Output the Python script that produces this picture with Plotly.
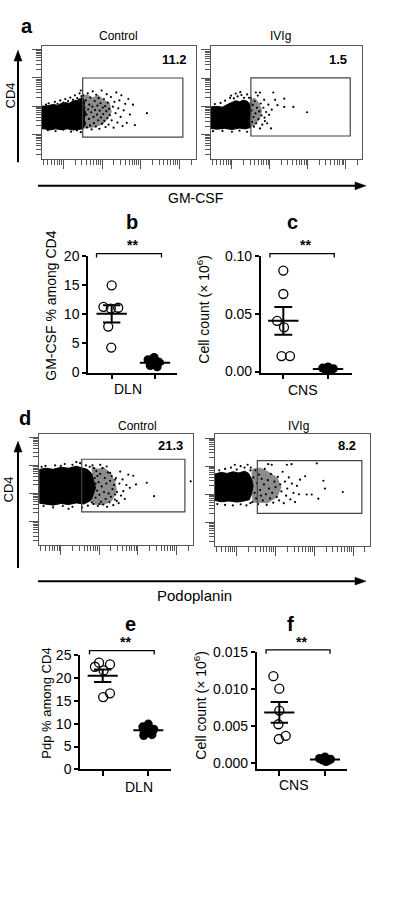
import math
import numpy as np
import plotly.graph_objects as go

W, H = 399, 918
FONT = "Liberation Sans, Arial, sans-serif"

# ---------------- flow cytometry panels (a, d): values in log10 decades ----------------
FLOW_GROUPS = ["Control", "IVIg"]
PCT_A = ["11.2", "1.5"]
PCT_D = ["21.3", "8.2"]
X_LABEL_A = "GM-CSF"
X_LABEL_D = "Podoplanin"
Y_LABEL_FLOW = "CD4"

FLOW_X_RANGE = [0.44, 4.43]
FLOW_Y_RANGE = [0.15, 4.13]

GATE_A_CTRL = [1.50, 4.09, 0.91, 2.99]
GATE_A_IVIG = [1.50, 4.12, 0.95, 3.01]
GATE_D_CTRL = [1.54, 4.22, 1.34, 3.22]
GATE_D_IVIG = [1.53, 4.22, 1.32, 3.20]

A_CTRL_CORE = [(0.44, 1.20), (0.44, 2.0), (0.55, 2.0), (0.65, 2.04), (0.75, 2.06), (0.85, 2.02),
               (0.95, 2.1), (1.05, 2.12), (1.15, 2.1), (1.25, 2.18), (1.35, 2.2), (1.45, 2.28),
               (1.50, 2.3), (1.55, 2.15), (1.53, 1.95), (1.58, 1.75), (1.54, 1.55), (1.57, 1.35),
               (1.50, 1.2), (1.40, 1.18), (1.25, 1.16), (1.1, 1.2), (0.95, 1.17), (0.8, 1.2),
               (0.65, 1.16), (0.5, 1.2)]
A_CTRL_HALO = [(1.5, 2.35), (1.62, 2.42), (1.75, 2.3), (1.9, 2.4), (2.05, 2.22), (2.2, 2.12),
               (2.25, 1.8), (2.15, 1.55), (2.02, 1.35), (1.8, 1.25), (1.5, 1.2)]
A_CTRL_DOTS = [(1.52, 2.38), (1.55, 1.95), (1.56, 1.40), (1.58, 2.20), (1.60, 1.70), (1.61, 1.25),
               (1.63, 2.45), (1.64, 1.88), (1.66, 1.55), (1.67, 2.05), (1.69, 1.32), (1.70, 2.30),
               (1.72, 1.78), (1.73, 1.18), (1.75, 1.98), (1.76, 2.52), (1.78, 1.62), (1.79, 1.40),
               (1.81, 2.18), (1.82, 1.86), (1.84, 1.28), (1.85, 2.40), (1.87, 1.70), (1.88, 2.02),
               (1.90, 1.50), (1.91, 2.28), (1.93, 1.20), (1.94, 1.84), (1.96, 2.10), (1.97, 1.60),
               (1.99, 2.55), (2.00, 1.38), (2.02, 1.95), (2.03, 1.72), (2.05, 2.25), (2.06, 1.48),
               (2.08, 2.00), (2.09, 1.26), (2.11, 1.82), (2.12, 2.42), (2.14, 1.58), (2.15, 2.12),
               (2.17, 1.35), (2.18, 1.90), (2.20, 1.68),
               (2.23, 2.32), (2.25, 1.50), (2.28, 1.98), (2.30, 1.24), (2.32, 2.15), (2.35, 1.75),
               (2.37, 2.48), (2.40, 1.42), (2.42, 1.92), (2.45, 2.20), (2.48, 1.62), (2.50, 2.38),
               (2.53, 1.30), (2.56, 1.85), (2.60, 2.08), (2.64, 1.41), (2.68, 2.25), (2.72, 1.70),
               (2.80, 2.05), (2.85, 1.33), (3.16, 1.75),
               (0.55, 2.05), (0.62, 2.10), (0.70, 2.02), (0.78, 2.15), (0.85, 2.08), (0.92, 2.20),
               (1.00, 2.12), (1.05, 2.25), (1.12, 2.18), (1.18, 2.30), (1.25, 2.22), (1.30, 2.38),
               (1.36, 2.28), (1.42, 2.45), (1.47, 2.35), (1.45, 2.55),
               (0.6, 1.15), (0.8, 1.12), (1.0, 1.17), (1.2, 1.10), (1.35, 1.14), (1.45, 1.08)]

A_IVIG_CORE = [(0.44, 1.22), (0.44, 1.98), (0.6, 2.0), (0.75, 1.97), (0.9, 2.08), (1.0, 2.15),
               (1.1, 2.2), (1.2, 2.16), (1.3, 2.22), (1.4, 2.18), (1.47, 2.1), (1.49, 1.8),
               (1.46, 1.5), (1.49, 1.25), (1.35, 1.2), (1.2, 1.23), (1.0, 1.18), (0.8, 1.22),
               (0.6, 1.19)]
A_IVIG_HALO = [(1.48, 2.25), (1.6, 2.3), (1.72, 2.12), (1.8, 1.85), (1.74, 1.55), (1.6, 1.32),
               (1.48, 1.25)]
A_IVIG_DOTS = [(1.63, 2.49), (1.74, 2.49), (2.09, 2.49), (2.14, 2.23), (2.20, 2.04), (2.38, 2.27),
               (2.38, 1.98), (2.62, 1.98), (2.98, 1.79), (2.03, 1.22), (1.87, 1.48), (1.96, 2.06),
               (1.85, 2.23),
               (1.50, 2.30), (1.52, 1.85), (1.53, 1.45), (1.55, 2.05), (1.57, 1.62), (1.58, 1.28),
               (1.60, 2.18), (1.62, 1.75), (1.64, 1.40), (1.66, 1.95), (1.68, 2.38), (1.70, 1.55),
               (1.72, 1.82), (1.74, 1.22), (1.76, 2.10), (1.78, 1.68), (1.80, 1.35), (1.83, 1.95),
               (1.86, 1.60), (1.90, 1.80), (1.93, 1.40), (1.98, 1.70), (2.05, 1.88),
               (0.55, 2.08), (0.7, 2.12), (0.82, 2.2), (0.95, 2.3), (1.05, 2.28), (1.15, 2.35),
               (1.25, 2.4), (1.32, 2.3), (1.4, 2.42), (1.45, 2.3), (1.22, 2.5), (1.1, 2.45),
               (0.98, 2.38),
               (0.5, 1.12), (0.75, 1.13), (1.0, 1.1), (1.2, 1.14), (1.4, 1.1)]

D_CTRL_CORE = [(0.44, 1.65), (0.44, 2.85), (0.6, 2.9), (0.8, 2.86), (1.0, 2.93), (1.2, 2.9),
               (1.4, 2.97), (1.55, 2.92), (1.7, 2.85), (1.8, 2.7), (1.85, 2.45), (1.9, 2.2),
               (1.84, 1.95), (1.78, 1.75), (1.6, 1.62), (1.4, 1.66), (1.2, 1.6), (1.0, 1.64),
               (0.8, 1.58), (0.6, 1.63)]
D_CTRL_HALO = [(1.8, 2.95), (1.98, 2.88), (2.1, 2.95), (2.3, 2.72), (2.42, 2.4), (2.46, 2.05),
               (2.32, 1.72), (2.1, 1.58), (1.8, 1.6)]
D_CTRL_DOTS = [(2.54, 2.78), (2.75, 2.67), (2.88, 2.63), (3.23, 2.38), (3.42, 1.90), (2.79, 2.20),
               (2.95, 2.32), (2.41, 1.96), (2.45, 1.73), (2.62, 2.08), (4.37, 2.43), (2.02, 3.02),
               (2.19, 2.96), (2.28, 2.73), (2.41, 2.49),
               (1.82, 3.00), (1.85, 1.62), (1.88, 2.55), (1.90, 1.85), (1.92, 2.80), (1.94, 2.10),
               (1.96, 1.55), (1.98, 2.40), (2.00, 1.95), (2.02, 2.70), (2.04, 1.70), (2.06, 2.25),
               (2.08, 2.90), (2.10, 1.60), (2.12, 2.05), (2.14, 2.55), (2.16, 1.80), (2.18, 2.35),
               (2.20, 1.52), (2.22, 2.75), (2.24, 2.00), (2.26, 1.68), (2.28, 2.45), (2.30, 1.88),
               (2.32, 2.62), (2.34, 2.15), (2.36, 1.58), (2.38, 2.30), (2.40, 1.78), (2.43, 2.55),
               (2.46, 2.05), (2.50, 1.65), (2.52, 2.35), (2.56, 1.92), (2.60, 2.50), (2.66, 1.80),
               (2.70, 2.30),
               (1.75, 2.95), (1.80, 1.68), (1.86, 2.90), (1.95, 2.62), (2.00, 1.62), (1.90, 2.35),
               (0.6, 2.98), (0.85, 3.0), (1.1, 3.05), (1.3, 3.02), (1.5, 3.08), (1.65, 3.0),
               (0.5, 2.95), (1.0, 2.98), (1.4, 3.12),
               (0.55, 1.55), (0.8, 1.5), (1.05, 1.55), (1.3, 1.52), (1.55, 1.5), (1.7, 1.56),
               (1.2, 1.45)]

D_IVIG_CORE = [(0.44, 1.78), (0.44, 2.72), (0.6, 2.78), (0.75, 2.74), (0.9, 2.8), (1.05, 2.76),
               (1.2, 2.82), (1.3, 2.75), (1.38, 2.55), (1.42, 2.3), (1.38, 2.0), (1.32, 1.8),
               (1.15, 1.75), (1.0, 1.72), (0.8, 1.76), (0.6, 1.73)]
D_IVIG_HALO = [(1.38, 2.9), (1.6, 2.95), (1.85, 2.78), (2.05, 2.6), (2.15, 2.25), (2.05, 1.9),
               (1.8, 1.68), (1.4, 1.7)]
D_IVIG_DOTS = [(1.81, 3.07), (1.90, 3.05), (2.29, 3.05), (2.41, 3.07), (3.06, 3.10), (3.23, 2.48),
               (3.27, 2.20), (3.73, 2.08), (3.10, 1.84), (2.80, 1.99), (2.63, 2.52), (2.76, 2.64),
               (2.93, 1.99),
               (1.36, 2.95), (1.40, 1.72), (1.43, 2.60), (1.46, 2.05), (1.48, 2.85), (1.50, 1.85),
               (1.52, 2.40), (1.55, 1.65), (1.57, 2.70), (1.60, 2.15), (1.62, 1.95), (1.64, 2.55),
               (1.67, 1.78), (1.70, 2.35), (1.72, 2.90), (1.75, 2.00), (1.77, 1.62), (1.80, 2.50),
               (1.83, 2.20), (1.86, 1.85), (1.88, 2.72), (1.91, 2.05), (1.94, 1.70), (1.97, 2.45),
               (2.00, 2.25), (2.03, 1.90), (2.06, 2.62), (2.09, 1.78), (2.12, 2.35), (2.15, 2.10),
               (2.18, 2.80), (2.21, 1.68), (2.24, 2.45), (2.27, 1.95), (2.30, 2.20), (2.34, 2.60),
               (2.38, 1.82), (2.42, 2.38), (2.46, 2.05), (2.50, 1.72), (2.55, 2.30), (2.60, 2.00),
               (0.55, 2.85), (0.7, 2.9), (0.85, 2.95), (1.0, 2.88), (1.1, 3.0), (1.2, 2.95),
               (1.28, 3.05), (0.95, 3.05), (1.35, 2.85),
               (0.5, 1.65), (0.7, 1.62), (0.9, 1.6), (1.1, 1.64), (1.25, 1.6), (1.35, 1.68)]

# ---------------- dot plots (b, c, e, f) ----------------
B_CTRL = [15.0, 11.3, 11.15, 11.0, 7.9, 4.3]
B_CTRL_DX = [0.0, -0.19, 0.15, -0.02, -0.08, -0.01]
B_IVIG = [2.6, 2.2, 1.8, 1.4, 1.2, 1.0]
B_IVIG_DX = [-0.02, -0.16, 0.09, -0.05, -0.11, 0.05]

C_CTRL = [0.0876, 0.0673, 0.044, 0.0384, 0.0134, 0.0134]
C_CTRL_DX = [0.0, 0.0, -0.14, 0.015, -0.04, 0.15]
C_IVIG = [0.004, 0.003, 0.0025, 0.002, 0.0015, 0.0008]
C_IVIG_DX = [0.0, -0.12, 0.12, -0.05, 0.06, 0.02]

E_CTRL = [23.3, 22.9, 22.4, 21.6, 16.6, 15.8]
E_CTRL_DX = [-0.08, 0.16, -0.17, 0.02, 0.16, 0.01]
E_IVIG = [9.9, 9.3, 8.8, 8.2, 7.6, 7.4]
E_IVIG_DX = [0.0, -0.12, 0.12, -0.05, 0.08, -0.1]

F_CTRL = [0.01176, 0.01007, 0.0071, 0.00524, 0.00368, 0.00324]
F_CTRL_DX = [-0.13, 0.0, 0.0, -0.02, 0.14, -0.01]
F_IVIG = [0.0008, 0.0006, 0.0005, 0.0004, 0.0003, 0.0002]
F_IVIG_DX = [0.0, -0.12, 0.12, -0.05, 0.06, 0.02]

B_TICKS = [0, 5, 10, 15, 20]
C_TICKS = [0.0, 0.05, 0.10]
E_TICKS = [0, 5, 10, 15, 20, 25]
F_TICKS = [0.0, 0.005, 0.010, 0.015]

SIG = "**"
YT_B = "GM-CSF % among CD4"
YT_C = "Cell count (× 10<sup>6</sup>)"
YT_E = "Pdp % among CD4"
YT_F = "Cell count (× 10<sup>6</sup>)"

# ---------------- helpers ----------------
def xd(p0, p1):
    return [p0 / W, p1 / W]

def yd(p0, p1):
    return [1 - p1 / H, 1 - p0 / H]

def px(x):
    return x / W

def py(y):
    return 1 - y / H

BOX = "#555555"
TK = "#555555"
MAJ = [1, 2, 3, 4]
MINX = [k + math.log10(m) for k in range(0, 5) for m in range(2, 10)
        if FLOW_X_RANGE[0] < k + math.log10(m) < FLOW_X_RANGE[1]]
MINY = [k + math.log10(m) for k in range(0, 5) for m in range(2, 10)
        if FLOW_Y_RANGE[0] < k + math.log10(m) < FLOW_Y_RANGE[1]]

fig = go.Figure()
layout = {}
shapes = []
annotations = []

def ann(text, x, y, size=12, bold=False, **kw):
    t = f"<b>{text}</b>" if bold else text
    d = dict(text=t, x=x, y=y, xref="paper", yref="paper", showarrow=False,
             xanchor="center", yanchor="middle",
             font=dict(family=FONT, size=size, color="black"))
    d.update(kw)
    annotations.append(d)

# ---------- flow panels ----------
flow_specs = [
    (1, A_CTRL_CORE, A_CTRL_HALO, A_CTRL_DOTS, GATE_A_CTRL, (41.7, 196), (38.3, 153.3), PCT_A[0], 0.955, 0.88),
    (2, A_IVIG_CORE, A_IVIG_HALO, A_IVIG_DOTS, GATE_A_IVIG, (210.7, 362), (38.8, 153.3), PCT_A[1], 0.916, 0.885),
    (3, D_CTRL_CORE, D_CTRL_HALO, D_CTRL_DOTS, GATE_D_CTRL, (39.3, 193), (433.3, 546.7), PCT_D[0], 0.948, 0.897),
    (4, D_IVIG_CORE, D_IVIG_HALO, D_IVIG_DOTS, GATE_D_IVIG, (215, 370), (434, 547.7), PCT_D[1], 0.923, 0.90),
]
for n, core, halo, dots, gate, xdp, ydp, pct, tx, ty in flow_specs:
    sx = "" if n == 1 else str(n)
    xa, ya = "x" + sx, "y" + sx
    hx, hy = zip(*halo)
    fig.add_trace(go.Scatter(x=list(hx) + [hx[0]], y=list(hy) + [hy[0]], mode="lines",
                             fill="toself", fillcolor="rgba(0,0,0,0.45)", line=dict(width=0),
                             xaxis=xa, yaxis=ya, showlegend=False, hoverinfo="skip"))
    cx, cy = zip(*core)
    fig.add_trace(go.Scatter(x=list(cx) + [cx[0]], y=list(cy) + [cy[0]], mode="lines",
                             fill="toself", fillcolor="black", line=dict(color="black", width=1),
                             xaxis=xa, yaxis=ya, showlegend=False, hoverinfo="skip"))
    dx_, dy_ = zip(*dots)
    fig.add_trace(go.Scatter(x=dx_, y=dy_, mode="markers",
                             marker=dict(color="black", size=2.2, line=dict(width=0)),
                             xaxis=xa, yaxis=ya, showlegend=False, hoverinfo="skip"))
    common = dict(showline=True, mirror=True, linecolor=BOX, linewidth=1.2,
                  ticks="outside", tickmode="array", tickvals=MAJ, ticklen=9,
                  tickcolor=TK, tickwidth=1, showticklabels=False, showgrid=False,
                  zeroline=False)
    layout["xaxis" + sx] = dict(domain=xd(*xdp), range=FLOW_X_RANGE, anchor=ya,
                                minor=dict(tickmode="array", tickvals=MINX, ticks="outside",
                                           ticklen=5, tickcolor=TK, tickwidth=1, showgrid=False),
                                **common)
    layout["yaxis" + sx] = dict(domain=yd(*ydp), range=FLOW_Y_RANGE, anchor=xa,
                                minor=dict(tickmode="array", tickvals=MINY, ticks="outside",
                                           ticklen=5, tickcolor=TK, tickwidth=1, showgrid=False),
                                **common)
    shapes.append(dict(type="rect", xref=xa, yref=ya, x0=gate[0], x1=gate[1], y0=gate[2], y1=gate[3],
                       line=dict(color="#444444", width=1.2)))
    annotations.append(dict(text=f"<b>{pct}</b>", x=tx, y=ty, xref=xa + " domain", yref=ya + " domain",
                            xanchor="right", yanchor="middle", showarrow=False,
                            font=dict(family=FONT, size=13, color="black")))

# flow titles / labels
ann(FLOW_GROUPS[0], px(118), py(28), 12)
ann(FLOW_GROUPS[1], px(280), py(28), 12)
ann(FLOW_GROUPS[0], px(137), py(425), 12)
ann(FLOW_GROUPS[1], px(298), py(425), 12)
ann(Y_LABEL_FLOW, px(10), py(89), 13, textangle=-90)
ann(Y_LABEL_FLOW, px(8), py(490), 13, textangle=-90)
ann(X_LABEL_A, px(195), py(193), 14)
ann(X_LABEL_D, px(194), py(598), 15)

# axis arrows (paper-space decoration)
def arrow_v(x, y_tip, y_tail):
    shapes.append(dict(type="line", xref="paper", yref="paper", x0=px(x), x1=px(x),
                       y0=py(y_tail), y1=py(y_tip + 8), line=dict(color="black", width=2)))
    shapes.append(dict(type="path", xref="paper", yref="paper", fillcolor="black",
                       line=dict(color="black", width=0.5),
                       path=f"M {px(x)},{py(y_tip)} L {px(x - 4)},{py(y_tip + 11)} "
                            f"L {px(x + 4)},{py(y_tip + 11)} Z"))

def arrow_h(y, x_tail, x_tip):
    shapes.append(dict(type="line", xref="paper", yref="paper", x0=px(x_tail), x1=px(x_tip - 8),
                       y0=py(y), y1=py(y), line=dict(color="black", width=2)))
    shapes.append(dict(type="path", xref="paper", yref="paper", fillcolor="black",
                       line=dict(color="black", width=0.5),
                       path=f"M {px(x_tip)},{py(y)} L {px(x_tip - 11)},{py(y - 4)} "
                            f"L {px(x_tip - 11)},{py(y + 4)} Z"))

arrow_v(18, 43, 157)
arrow_h(181, 38, 366)
arrow_v(18, 441, 570)
arrow_h(583.3, 38, 366)

# panel letters
for letter, x, y in [("a", 27, 18), ("b", 132, 218), ("c", 292, 218),
                     ("d", 25, 417), ("e", 130, 627), ("f", 290, 627)]:
    ann(letter, px(x), py(y), 20, bold=True)

# ---------- dot plots ----------
dot_specs = [
    (5, B_CTRL, B_CTRL_DX, B_IVIG, B_IVIG_DX, (88, 177), (252.7, 371), [-0.547, 1.508], [0, 20],
     B_TICKS, None, [-0.35, 1.15], 1.023, 0.989, 1.093, 0.35, 0.20),
    (6, C_CTRL, C_CTRL_DX, C_IVIG, C_IVIG_DX, (260.7, 351.7), (252.7, 371), [-0.506, 1.53],
     [-0.00085, 0.10], C_TICKS, ".2f", [-0.30, 1.14], 1.023, 0.989, 1.093, 0.34, 0.20),
    (7, E_CTRL, E_CTRL_DX, E_IVIG, E_IVIG_DX, (80, 171), (658.3, 775), [-0.498, 1.498], [0, 25],
     E_TICKS, None, [-0.29, 1.13], 1.037, 1.003, 1.108, 0.33, 0.19),
    (8, F_CTRL, F_CTRL_DX, F_IVIG, F_IVIG_DX, (256.7, 346.7), (655.7, 775), [-0.495, 1.475],
     [-0.00089, 0.015], F_TICKS, ".3f", [-0.29, 1.11], 1.020, 0.987, 1.09, 0.33, 0.19),
]
for n, ctrl, cdx, ivig, idx, xdp, ydp, xr, yr, ticks, fmt, br, by1, by0, sy, hw, cw in dot_specs:
    xa, ya = f"x{n}", f"y{n}"
    for gi, (vals, dxs) in enumerate([(ctrl, cdx), (ivig, idx)]):
        v = np.array(vals)
        m = v.mean()
        s = v.std(ddof=1) / np.sqrt(len(v))
        xs = [gi + d for d in dxs]
        if gi == 0:
            mk = dict(symbol="circle-open", size=9, color="black", line=dict(width=1.3, color="black"))
        else:
            mk = dict(symbol="circle", size=9, color="black", line=dict(width=0))
        fig.add_trace(go.Scatter(x=xs, y=vals, mode="markers", marker=mk, cliponaxis=False,
                                 xaxis=xa, yaxis=ya, showlegend=False, hoverinfo="skip"))
        lx = [gi - hw, gi + hw, None, gi, gi, None, gi - cw, gi + cw, None, gi - cw, gi + cw]
        ly = [m, m, None, m - s, m + s, None, m - s, m - s, None, m + s, m + s]
        fig.add_trace(go.Scatter(x=lx, y=ly, mode="lines", line=dict(color="black", width=2),
                                 xaxis=xa, yaxis=ya, showlegend=False, hoverinfo="skip"))
    ydict = dict(domain=yd(*ydp), range=yr, anchor=xa, showline=True, linecolor="black",
                 linewidth=1.5, ticks="outside", ticklen=4, tickwidth=1.5, tickcolor="black",
                 tickmode="array", tickvals=ticks, showgrid=False, zeroline=False,
                 tickfont=dict(family=FONT, size=14, color="black"))
    if fmt:
        ydict["tickformat"] = fmt
    layout[f"yaxis{n}"] = ydict
    layout[f"xaxis{n}"] = dict(domain=xd(*xdp), range=xr, anchor=ya, showline=True,
                               linecolor="black", linewidth=1.5, ticks="outside", ticklen=5,
                               tickwidth=1.5, tickcolor="black", tickmode="array", tickvals=[0, 1],
                               showticklabels=False, showgrid=False, zeroline=False)
    shapes.append(dict(type="path", xref=xa, yref=ya + " domain",
                       path=f"M {br[0]},{by0} L {br[0]},{by1} L {br[1]},{by1} L {br[1]},{by0}",
                       line=dict(color="black", width=1.3)))
    annotations.append(dict(text=f"<b>{SIG}</b>", x=0.49, y=sy, xref=xa, yref=ya + " domain",
                            xanchor="center", yanchor="middle", showarrow=False,
                            font=dict(family=FONT, size=14, color="black")))

ann(YT_B, px(51), py(303), 14, textangle=-90)
ann(YT_C, px(203), py(307), 14, textangle=-90)
ann(YT_E, px(47), py(708), 13, textangle=-90)
ann(YT_F, px(200), py(710), 14, textangle=-90)
ann("DLN", px(128), py(388), 14)
ann("CNS", px(303), py(389), 14)
ann("DLN", px(139), py(793), 14)
ann("CNS", px(294), py(791), 14)

fig.update_layout(**layout)
fig.update_layout(width=W, height=H, margin=dict(l=0, r=0, t=0, b=0),
                  paper_bgcolor="white", plot_bgcolor="white",
                  shapes=shapes, annotations=annotations, showlegend=False,
                  font=dict(family=FONT, color="black"))
fig.write_html("out.html")
